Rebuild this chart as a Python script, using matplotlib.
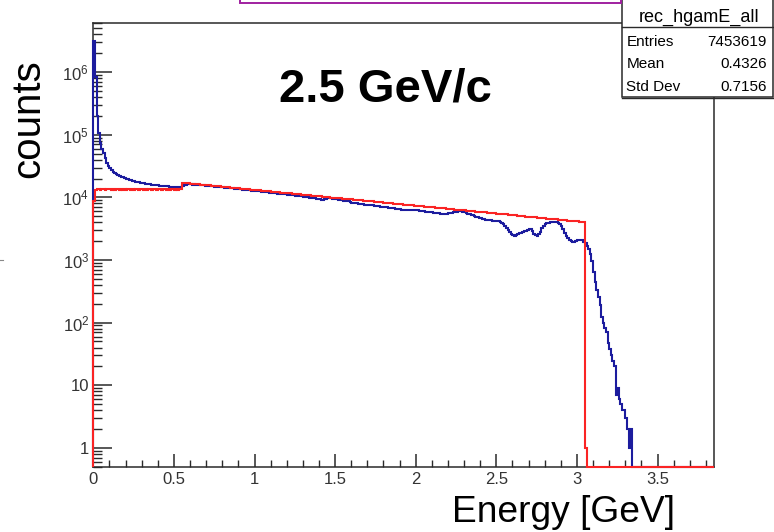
import numpy as np
import matplotlib
matplotlib.use("Agg")
import matplotlib.pyplot as plt
from matplotlib.ticker import FixedLocator, FixedFormatter, LogLocator, MultipleLocator, NullFormatter
from matplotlib.patches import Rectangle
from matplotlib.lines import Line2D

plt.rcParams['font.family'] = ['Liberation Sans', 'DejaVu Sans']
plt.rcParams['mathtext.fontset'] = 'custom'
plt.rcParams['mathtext.rm'] = 'Liberation Sans'
plt.rcParams['mathtext.it'] = 'Liberation Sans:italic'
plt.rcParams['mathtext.bf'] = 'Liberation Sans:bold'

# ---------------------------------------------------------------- data
BIN_WIDTH = 0.01          # GeV
N_BINS = 385              # 0 .. 3.85 GeV
X_MAX = 3.85
Y_MIN, Y_MAX = 0.5, 6.1e6

# reconstructed photon energy (rec_hgamE_all), counts per 0.01 GeV bin from 0 GeV
rec_counts = [
    3200000, 830000, 200000, 106000, 74000, 60000, 51000, 43000, 36000, 32000,
    29000, 27000, 25500, 24300, 23400, 22600, 21900, 21300, 20800, 20300,
    19900, 19500, 19100, 18800, 18500, 18200, 17900, 17700, 17500, 17200,
    17000, 16800, 16600, 16400, 16300, 16100, 16000, 15900, 15700, 15600,
    15500, 15400, 15300, 15200, 15100, 15000, 14950, 14900, 14800, 14750,
    14700, 14650, 14600, 14700, 14550, 15200, 15900, 15500, 16300, 16400,
    16200, 16000, 16100, 15900, 15800, 15700, 15750, 15600, 15500, 15400,
    15300, 15250, 15100, 15000, 15050, 14900, 14800, 14700, 14650, 14500,
    14400, 14350, 14200, 14150, 14000, 14050, 13900, 13800, 13750, 13600,
    13500, 13450, 13300, 13250, 13150, 13100, 13000, 12900, 12800, 12750,
    12700, 12600, 12500, 12450, 12300, 12250, 12150, 12100, 12000, 11900,
    11800, 11750, 11650, 11600, 11500, 11450, 11350, 11300, 11200, 11150,
    11050, 11000, 10900, 10850, 10750, 10700, 10600, 10500, 10450, 10350,
    10300, 10200, 10150, 10050, 9950, 9900, 9800, 9700, 9600, 9500,
    9300, 9200, 9150, 9350, 9600, 9800, 9750, 9700, 9600, 9550,
    9450, 9350, 9250, 9100, 9000, 8900, 8800, 8700, 8600, 8450,
    8200, 8150, 8100, 8000, 7950, 7900, 7850, 7800, 7700, 7650,
    7600, 7550, 7500, 7450, 7350, 7300, 7250, 7200, 7100, 7050,
    7000, 6950, 6900, 6850, 6800, 6750, 6700, 6600, 6550, 6500,
    6450, 6400, 6400, 6350, 6350, 6300, 6300, 6300, 6250, 6250,
    6250, 6200, 6150, 6100, 6050, 6000, 5950, 5900, 5850, 5800,
    5750, 5700, 5650, 5600, 5550, 5500, 5500, 5450, 5450, 5500,
    5550, 5600, 5650, 5750, 5850, 5950, 6050, 6100, 6050, 5950,
    5800, 5650, 5500, 5350, 5250, 5150, 5050, 4950, 4850, 4750,
    4650, 4550, 4450, 4400, 4350, 4300, 4300, 4250, 4250, 4200,
    4200, 4150, 4100, 3950, 3750, 3500, 3250, 3000, 2800, 2650,
    2500, 2450, 2550, 2600, 2700, 2750, 2850, 2900, 2950, 3050,
    3150, 3100, 2900, 2650, 2500, 2450, 2600, 2850, 3200, 3550,
    3800, 3900, 3950, 4000, 4050, 4100, 4100, 4050, 3950, 3750,
    3450, 3100, 2750, 2450, 2250, 2100, 2000, 1950, 1950, 2000,
    2050, 2100, 2100, 2050, 1950, 1850, 1700, 1500, 1250, 950,
    650, 450, 330, 260, 190, 124, 100, 82, 70, 47,
    38, 30, 24, 20, 7, 9, 6, 5, 4, 4,
    3, 2, 1, 2,
]

# generated photon energy, counts per 0.01 GeV bin from 0 GeV
gen_counts = [
    8600, 13300, 13450, 13400, 13350, 13500, 13400, 13300, 13450, 13400,
    13400, 13350, 13450, 13300, 13400, 13500, 13350, 13400, 13300, 13450,
    13350, 13400, 13500, 13300, 13400, 13350, 13450, 13400, 13300, 13400,
    13450, 13350, 13400, 13300, 13500, 13400, 13350, 13450, 13400, 13300,
    13400, 13450, 13350, 13400, 13500, 13300, 13400, 13350, 13450, 13400,
    13350, 13400, 13300, 13450, 13400, 16900, 17050, 16850, 16800, 16700,
    16550, 16500, 16400, 16350, 16200, 16150, 16050, 15950, 15900, 15750,
    15650, 15550, 15500, 15350, 15300, 15200, 15150, 15000, 14950, 14850,
    14750, 14650, 14600, 14500, 14400, 14350, 14250, 14150, 14100, 14000,
    13900, 13850, 13750, 13650, 13600, 13500, 13400, 13350, 13250, 13200,
    13100, 13050, 12950, 12900, 12800, 12750, 12650, 12550, 12500, 12450,
    12400, 12300, 12250, 12150, 12100, 12000, 11950, 11850, 11800, 11750,
    11700, 11600, 11550, 11450, 11400, 11350, 11250, 11200, 11150, 11050,
    11000, 10950, 10900, 10800, 10750, 10700, 10600, 10550, 10500, 10450,
    10400, 10350, 10300, 10200, 10150, 10100, 10050, 9950, 9900, 9850,
    9800, 9750, 9700, 9650, 9550, 9500, 9450, 9400, 9350, 9300,
    9300, 9200, 9150, 9100, 9050, 9000, 8950, 8900, 8850, 8800,
    8750, 8700, 8650, 8600, 8550, 8500, 8450, 8400, 8350, 8300,
    8250, 8200, 8150, 8100, 8050, 8000, 7950, 7950, 7900, 7850,
    7800, 7750, 7700, 7650, 7600, 7550, 7550, 7500, 7450, 7400,
    7350, 7300, 7250, 7250, 7200, 7150, 7100, 7050, 7000, 7000,
    6950, 6900, 6850, 6800, 6800, 6750, 6700, 6650, 6650, 6600,
    6550, 6500, 6500, 6450, 6400, 6350, 6350, 6300, 6250, 6250,
    6200, 6150, 6100, 6100, 6050, 6000, 6000, 5950, 5900, 5900,
    5850, 5800, 5800, 5750, 5700, 5700, 5650, 5600, 5600, 5550,
    5500, 5500, 5450, 5400, 5400, 5350, 5350, 5300, 5250, 5250,
    5200, 5200, 5150, 5100, 5100, 5050, 5050, 5000, 4950, 4950,
    4900, 4900, 4850, 4850, 4800, 4750, 4750, 4700, 4700, 4650,
    4650, 4600, 4600, 4550, 4550, 4500, 4450, 4450, 4400, 4400,
    4400, 4350, 4350, 4300, 4250, 4250, 4200, 4200, 4150, 4150,
    4150, 4100, 4100, 4050, 4050, 1,
]

x_tick_values = [0, 0.5, 1, 1.5, 2, 2.5, 3, 3.5]
x_tick_labels = ["0", "0.5", "1", "1.5", "2", "2.5", "3", "3.5"]
y_tick_values = [1, 10, 1e2, 1e3, 1e4, 1e5, 1e6]
y_tick_labels = ["1", "10", r"$10^{2}$", r"$10^{3}$", r"$10^{4}$", r"$10^{5}$", r"$10^{6}$"]

title_text = "2.5 GeV/c"
x_title = "Energy [GeV]"
y_title = "counts"
stats_name = "rec_hgamE_all"
stats_rows = [("Entries", "7453619"), ("Mean", "0.4326"), ("Std Dev", "0.7156")]

# ---------------------------------------------------------------- figure
W, H = 774, 532
BLUE = "#1c1c9e"
RED = "#fa2424"
FRAME = "#2a2a2a"


def fx(px):
    return px / W


def fy(py):
    return 1 - py / H


fig = plt.figure(figsize=(W / 100, H / 100), dpi=100)
ax_l, ax_r, ax_t, ax_b = 93.3, 714.0, 23.0, 466.7
ax = fig.add_axes([fx(ax_l), fy(ax_b), fx(ax_r - ax_l), (ax_b - ax_t) / H])
ax.set_yscale("log")
ax.set_xlim(0, X_MAX)
ax.set_ylim(Y_MIN, Y_MAX)

edges = np.arange(N_BINS + 1) * BIN_WIDTH
rec = np.zeros(N_BINS)
rec[:len(rec_counts)] = rec_counts
gen = np.zeros(N_BINS)
gen[:len(gen_counts)] = gen_counts

# empty bins sit on the frame, as in a ROOT histogram outline
ax.stairs(np.clip(rec, Y_MIN, None), edges, baseline=Y_MIN, color=BLUE,
          lw=1.5, clip_on=False, zorder=3)
ax.stairs(np.clip(gen, Y_MIN, None), edges, baseline=Y_MIN, color=RED,
          lw=1.5, clip_on=False, zorder=4)

# axes frame and ticks
for s in ax.spines.values():
    s.set_linewidth(1.1)
    s.set_color(FRAME)

ax.xaxis.set_major_locator(FixedLocator(x_tick_values))
ax.xaxis.set_major_formatter(FixedFormatter(x_tick_labels))
ax.xaxis.set_minor_locator(MultipleLocator(0.1))
ax.yaxis.set_major_locator(FixedLocator(y_tick_values))
ax.yaxis.set_major_formatter(FixedFormatter(y_tick_labels))
ax.yaxis.set_minor_locator(LogLocator(base=10, subs=np.arange(2, 10), numticks=20))
ax.yaxis.set_minor_formatter(NullFormatter())

ax.tick_params(axis="both", which="both", direction="in", color=FRAME,
               labelcolor="#333333", labelsize=12, top=False, right=False)
ax.tick_params(axis="x", which="major", length=9.6, width=1.1, pad=4)
ax.tick_params(axis="x", which="minor", length=4.8, width=1.0)
ax.tick_params(axis="y", which="major", length=13.4, width=1.1, pad=3)
ax.tick_params(axis="y", which="minor", length=6.7, width=1.0)

# titles
fig.text(fx(385), fy(101), title_text, fontsize=34, fontweight="bold",
         ha="center", va="baseline", color="black")
fig.text(fx(675), fy(521.7), x_title, fontsize=26.7, ha="right",
         va="baseline", color="black")
fig.text(fx(28), fy(119), y_title, fontsize=29, rotation=90, ha="center",
         va="center", color="black")

# statistics box
box_l, box_r, box_t, box_b = 621.5, 772.5, -2.0, 96.7
fig.patches.append(Rectangle((fx(box_l), fy(box_b)), fx(box_r - box_l),
                             (box_b - box_t) / H, transform=fig.transFigure,
                             facecolor="white", edgecolor=FRAME, lw=1.1,
                             zorder=5))
fig.lines.append(Line2D([fx(box_l), fx(box_r)], [fy(97.6), fy(97.6)],
                        transform=fig.transFigure, color=FRAME, lw=1.0,
                        zorder=5))
fig.lines.append(Line2D([fx(box_l), fx(box_r)], [fy(26.7), fy(26.7)],
                        transform=fig.transFigure, color=FRAME, lw=1.0,
                        zorder=6))
fig.text(fx(699), fy(21.5), stats_name, fontsize=13, ha="center",
         va="baseline", zorder=7)
for i, (name, value) in enumerate(stats_rows):
    yb = 45.5 + i * 22.6
    fig.text(fx(626.5), fy(yb), name, fontsize=11, ha="left",
             va="baseline", zorder=7)
    fig.text(fx(766.7), fy(yb), value, fontsize=11, ha="right",
             va="baseline", zorder=7)

# canvas title box at the top edge
fig.patches.append(Rectangle((fx(240), fy(3)), fx(621 - 240), 10 / H,
                             transform=fig.transFigure, facecolor="white",
                             edgecolor="#a020a0", lw=1.4, zorder=5))
fig.lines.append(Line2D([0, fx(3)], [fy(260), fy(260)],
                        transform=fig.transFigure, color="#888888", lw=0.8))

fig.savefig("out.png", dpi=100)
